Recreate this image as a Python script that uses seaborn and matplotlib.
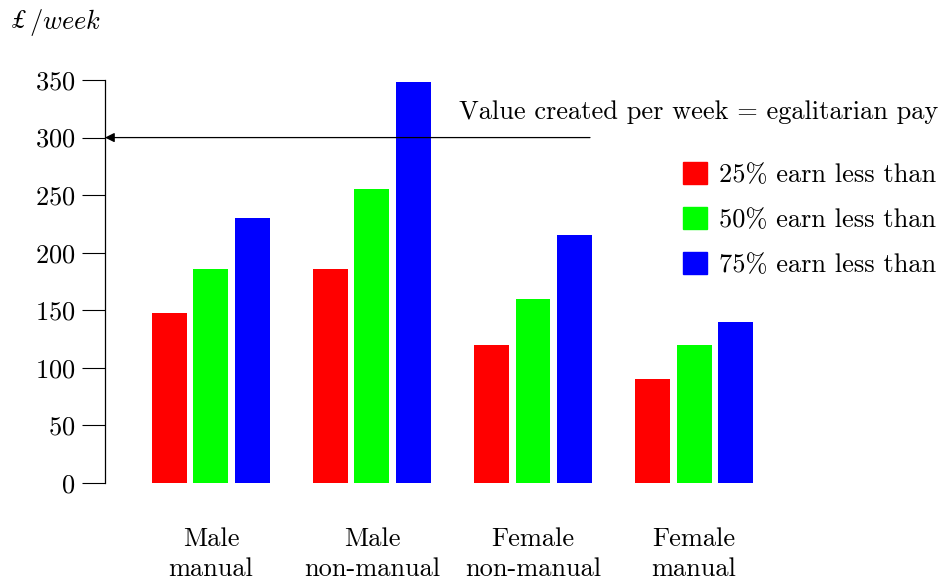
import numpy as np
import pandas as pd
import matplotlib
matplotlib.use("Agg")
import matplotlib.pyplot as plt
import seaborn as sns

# data
groups = ["Male\nmanual", "Male\nnon-manual", "Female\nnon-manual", "Female\nmanual"]
series = ["25% earn less than", "50% earn less than", "75% earn less than"]
p25 = [148, 186, 120, 90]
p50 = [186, 255, 160, 120]
p75 = [230, 348, 215, 140]
egalitarian_pay = 300
y_ticks = [0, 50, 100, 150, 200, 250, 300, 350]

colors = {series[0]: "#ff0000", series[1]: "#00ff00", series[2]: "#0000ff"}

df = pd.DataFrame({
    "group": groups * 3,
    "series": np.repeat(series, len(groups)),
    "value": p25 + p50 + p75,
})

sns.set_theme(style="white")
plt.rcParams['font.family'] = ['cmr10', 'DejaVu Serif']
plt.rcParams['mathtext.fontset'] = 'cm'
plt.rcParams['axes.unicode_minus'] = False
plt.rcParams['axes.formatter.use_mathtext'] = True
# LaTeX-style black text instead of seaborn's dark grey
for key in ['text.color', 'axes.labelcolor', 'xtick.color', 'ytick.color']:
    plt.rcParams[key] = 'black'
FS = 19

fig = plt.figure(figsize=(9.41, 5.83), dpi=100)
ax = fig.add_axes([105 / 941, 100 / 583, 675 / 941, 403 / 583])

sns.barplot(data=df, x="group", y="value", hue="series", order=groups,
            hue_order=series, palette=colors, saturation=1, width=0.773,
            gap=0.157, linewidth=0, ax=ax, legend=False)

ax.set_xlim(-0.658, 3.534)
ax.set_ylim(0, 350)
ax.set_yticks(y_ticks)
ax.set_xticks(range(len(groups)))
ax.set_xticklabels(groups, linespacing=1.3)
ax.set_xlabel("")
ax.set_ylabel("")
for s in ["top", "right", "bottom"]:
    ax.spines[s].set_visible(False)
ax.spines["left"].set_linewidth(0.9)
ax.spines["left"].set_color("black")
ax.tick_params(axis="y", length=16.5, width=0.8, pad=5, labelsize=FS,
               left=True, color="black", labelcolor="black")
ax.tick_params(axis="x", length=0, pad=32, labelsize=FS, labelcolor="black")

# arrow: value created per week
x_end = (590 - 211) / 161
ax.annotate("", xy=(-0.658, egalitarian_pay), xytext=(x_end, egalitarian_pay),
            arrowprops=dict(arrowstyle="-|>", color="black", lw=0.9,
                            mutation_scale=14, shrinkA=0, shrinkB=0),
            annotation_clip=False)
fig.text(0.997, 1 - 112 / 583, "Value created per week = egalitarian pay",
         ha="right", va="center", fontsize=FS)

# y unit label: pound sign from STIX italic (the cm fonts have no £), rest in cm italic
fig.text(12 / 941, 1 - 22 / 583, "£", ha="left", va="center",
         fontsize=FS, family="STIXGeneral", style="italic")
fig.text(29 / 941, 1 - 22 / 583, "$/week$", ha="left", va="center",
         fontsize=FS)

handles = [plt.Rectangle((0, 0), 1, 1, color=colors[s]) for s in series]
ax.legend(handles, series, loc="upper left", bbox_to_anchor=(672 / 941, 1 - 151 / 583),
          bbox_transform=fig.transFigure, frameon=False, fontsize=FS,
          handlelength=0.92, handleheight=0.92, handletextpad=0.45,
          labelspacing=0.76, borderaxespad=0, labelcolor="black")

fig.savefig("out.png", dpi=100)
